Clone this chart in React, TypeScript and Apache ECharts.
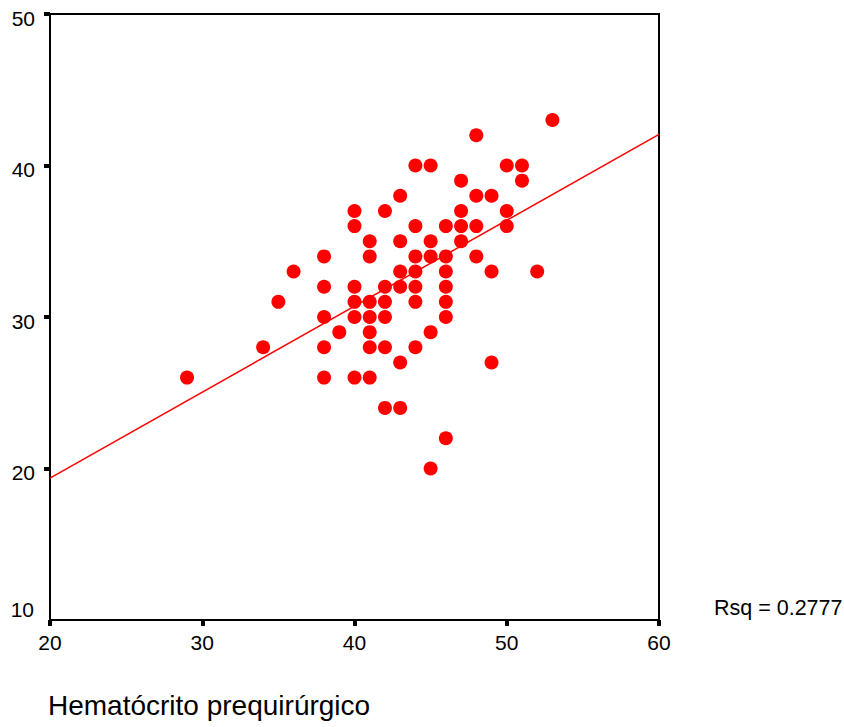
import React, { useEffect, useRef } from "react";
import * as echarts from "echarts";

// Hematócrito prequirúrgico (x) vs y
const xValues: number[] = [
  29,
  34,
  35,
  36,
  38, 38, 38, 38, 38,
  39,
  40, 40, 40, 40, 40, 40,
  41, 41, 41, 41, 41, 41, 41,
  42, 42, 42, 42, 42, 42,
  43, 43, 43, 43, 43, 43,
  44, 44, 44, 44, 44, 44, 44,
  45, 45, 45, 45, 45,
  46, 46, 46, 46, 46, 46, 46,
  47, 47, 47, 47,
  48, 48, 48, 48,
  49, 49, 49,
  50, 50, 50,
  51, 51,
  52,
  53,
];
const yValues: number[] = [
  26,
  28,
  31,
  33,
  34, 32, 30, 28, 26,
  29,
  37, 36, 32, 31, 30, 26,
  35, 34, 31, 30, 29, 28, 26,
  37, 32, 31, 30, 28, 24,
  38, 35, 33, 32, 27, 24,
  40, 36, 34, 33, 32, 31, 28,
  40, 35, 34, 29, 20,
  36, 34, 33, 32, 31, 30, 22,
  39, 37, 36, 35,
  42, 38, 36, 34,
  38, 33, 27,
  40, 37, 36,
  40, 39,
  33,
  43,
];
// Fit line end points
const fitX: number[] = [20, 60];
const fitY: number[] = [19.37, 42.06];

const xTicks = { min: 20, max: 60, interval: 10 };
const yTicks = { min: 10, max: 50, interval: 10 };
const rsqLabel = "Rsq = 0.2777";
const xTitle = "Hematócrito prequirúrgico";

const FONT = "'Liberation Sans', Arial, sans-serif";

export default function App() {
  const ref = useRef<HTMLDivElement>(null);
  useEffect(() => {
    if (!ref.current) return;
    const chart = echarts.init(ref.current, undefined, { renderer: "svg" });
    const points = xValues.map((x, i) => [x, yValues[i]]);
    const fit = fitX.map((x, i) => [x, fitY[i]]);
    chart.setOption({
      animation: false,
      backgroundColor: "#ffffff",
      textStyle: { fontFamily: FONT },
      grid: {
        left: 50,
        top: 14,
        right: 185,
        bottom: 107,
        show: true,
        borderColor: "#000000",
        borderWidth: 2,
        backgroundColor: "transparent",
      },
      xAxis: {
        type: "value",
        min: xTicks.min,
        max: xTicks.max,
        interval: xTicks.interval,
        axisLine: { show: true, onZero: false, lineStyle: { color: "#000", width: 2 } },
        axisTick: { show: true, inside: false, length: 6, lineStyle: { color: "#000", width: 4 } },
        splitLine: { show: false },
        axisLabel: { color: "#000", fontSize: 21, fontFamily: FONT, margin: 12 },
      },
      yAxis: {
        type: "value",
        min: yTicks.min,
        max: yTicks.max,
        interval: yTicks.interval,
        axisLine: { show: true, onZero: false, lineStyle: { color: "#000", width: 2 } },
        axisTick: { show: true, inside: false, length: 6, lineStyle: { color: "#000", width: 4 } },
        splitLine: { show: false },
        axisLabel: {
          color: "#000",
          fontSize: 21,
          fontFamily: FONT,
          margin: 15,
          showMinLabel: false,
          formatter: "{n|{value}}",
          rich: {
            n: { fontSize: 21, fontFamily: FONT, color: "#000", padding: [8, 0, 0, 0] },
          },
        },
      },
      graphic: [
        {
          type: "text",
          right: 844 - 34,
          top: 599,
          style: { text: String(yTicks.min), fontSize: 21, fontFamily: FONT, fill: "#000" },
        },
        {
          type: "text",
          left: 714,
          top: 597,
          style: { text: rsqLabel, fontSize: 21.5, fontFamily: FONT, fill: "#000" },
        },
        {
          type: "text",
          left: 48,
          top: 691,
          style: { text: xTitle, fontSize: 28, fontFamily: FONT, fill: "#000" },
        },
      ],
      series: [
        {
          type: "scatter",
          data: points,
          symbol: "circle",
          symbolSize: 14,
          itemStyle: { color: "#ff0000", opacity: 1 },
          z: 2,
        },
        {
          type: "line",
          data: fit,
          symbol: "none",
          lineStyle: { color: "#ff0000", width: 1.5 },
          z: 3,
        },
      ],
    });
    return () => chart.dispose();
  }, []);
  return (
    <div
      ref={ref}
      style={{ position: "fixed", left: 0, top: 0, width: 844, height: 727, background: "#fff" }}
    />
  );
}
